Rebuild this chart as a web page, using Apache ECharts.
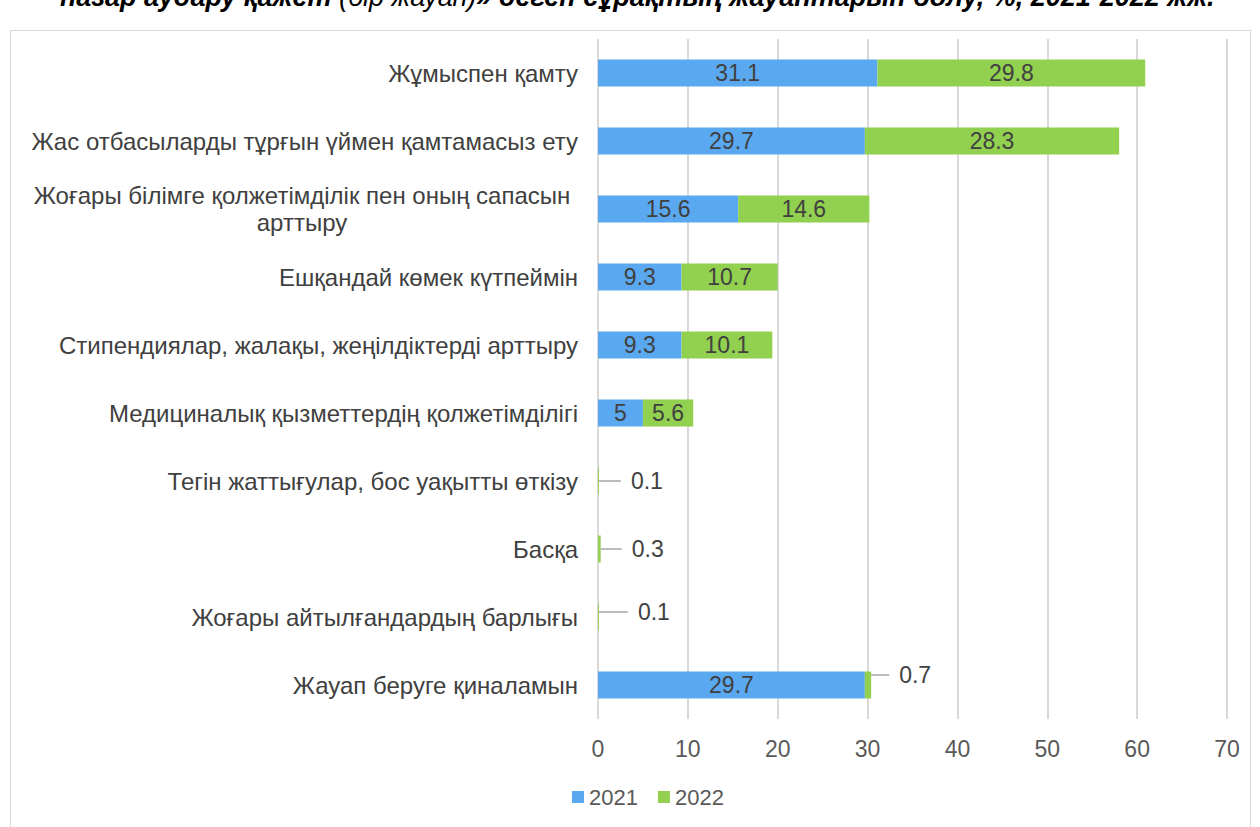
<!DOCTYPE html>
<html>
<head>
<meta charset="utf-8">
<script src="https://cdn.jsdelivr.net/npm/echarts@6/dist/echarts.min.js"></script>
<style>
  html, body { margin: 0; padding: 0; background: #fff; }
  #chart { width: 1260px; height: 827px; }
</style>
</head>
<body>
<div id="chart"></div>
<script>
// categories, top to bottom
var categories = [
  'Жұмыспен қамту',
  'Жас отбасыларды тұрғын үймен қамтамасыз ету',
  'Жоғары білімге қолжетімділік пен оның сапасын\nарттыру',
  'Ешқандай көмек күтпеймін',
  'Стипендиялар, жалақы, жеңілдіктерді арттыру',
  'Медициналық қызметтердің қолжетімділігі',
  'Тегін жаттығулар, бос уақытты өткізу',
  'Басқа',
  'Жоғары айтылғандардың барлығы',
  'Жауап беруге қиналамын'
];
var seriesNames = ['2021', '2022'];
var values2021 = [31.1, 29.7, 15.6, 9.3, 9.3, 5, 0, 0, 0, 29.7];
var values2022 = [29.8, 28.3, 14.6, 10.7, 10.1, 5.6, 0.1, 0.3, 0.1, 0.7];
var xTicks = [0, 70, 10];

var titleText = 'назар аудару қажет';
var titleMid = ' (бір жауап)';
var titleEnd = '» деген сұрақтың жауаптарын бөлу, %, 2021-2022 жж.';

var blue = '#5aa9f0', green = '#92d050';
var ink = '#404040', muted = '#595959', rule = '#d9d9d9';

// outside labels for tiny 2022 values: shift [dx, dy]
var outside = { 6: [16, 0], 7: [15, 0], 8: [23, -5], 9: [12, -10] };

function makeData(vals, isSecond) {
  return vals.map(function (v, i) {
    if (isSecond && outside[i]) {
      return {
        value: v,
        label: {
          position: 'right', distance: 6,
          formatter: '{g|}{v|{c}}',
          rich: { g: { width: 10 }, v: { fontSize: 23, color: ink } }
        }
      };
    }
    return v;
  });
}

var chart = echarts.init(document.getElementById('chart'), null, { renderer: 'svg' });
chart.setOption({
  animation: false,
  textStyle: { fontFamily: 'Liberation Sans, Arial, sans-serif' },
  graphic: [
    {
      type: 'rect', silent: true,
      shape: { x: 10.5, y: 30.5, width: 1240, height: 830 },
      style: { fill: 'none', stroke: rule, lineWidth: 1 }
    },
    {
      type: 'text', x: 60, y: -17,
      style: {
        verticalAlign: 'top',
        text: '{b|' + titleText + '}{i|' + titleMid + '}{b|' + titleEnd + '}',
        rich: {
          b: { fontSize: 27, fontWeight: 'bold', fontStyle: 'italic', fill: '#000', fontFamily: 'Liberation Sans' },
          i: { fontSize: 27, fontStyle: 'italic', fill: '#000', fontFamily: 'Liberation Sans' }
        }
      }
    }
  ],
  legend: {
    bottom: 14, left: 567,
    itemWidth: 12, itemHeight: 12, itemGap: 20,
    icon: 'rect',
    textStyle: { color: muted, fontSize: 22 },
    data: seriesNames
  },
  grid: { left: 598, right: 33, top: 39, bottom: 108, containLabel: false },
  xAxis: {
    type: 'value', min: xTicks[0], max: xTicks[1], interval: xTicks[2],
    axisLine: { show: false }, axisTick: { show: false },
    axisLabel: { color: muted, fontSize: 23, margin: 18 },
    splitLine: { lineStyle: { color: rule, width: 2 } }
  },
  yAxis: {
    type: 'category', inverse: true, data: categories,
    axisLine: { show: false }, axisTick: { show: false },
    axisLabel: {
      color: ink, fontSize: 24, margin: 20,
      formatter: function (v) {
        if (v.indexOf('\n') >= 0) {
          return v.split('\n').map(function (s) { return '{m|' + s + '}'; }).join('\n');
        }
        return v;
      },
      rich: { m: { width: 552, align: 'center', fontSize: 24, color: ink, lineHeight: 27 } }
    }
  },
  series: [
    {
      name: seriesNames[0], type: 'bar', stack: 'total', barWidth: 27,
      itemStyle: { color: blue },
      label: {
        show: true, position: 'inside', color: ink, fontSize: 23,
        formatter: function (p) { return p.value ? p.value : ''; }
      },
      data: makeData(values2021, false)
    },
    {
      name: seriesNames[1], type: 'bar', stack: 'total', barWidth: 27,
      itemStyle: { color: green },
      label: { show: true, position: 'inside', color: ink, fontSize: 23 },
      labelLine: { show: true, lineStyle: { color: '#a6a6a6', width: 1.5 } },
      labelLayout: function (p) {
        var s = outside[p.dataIndex];
        if (s) return { dx: s[0], dy: s[1] };
      },
      data: makeData(values2022, true)
    }
  ]
});
</script>
</body>
</html>
